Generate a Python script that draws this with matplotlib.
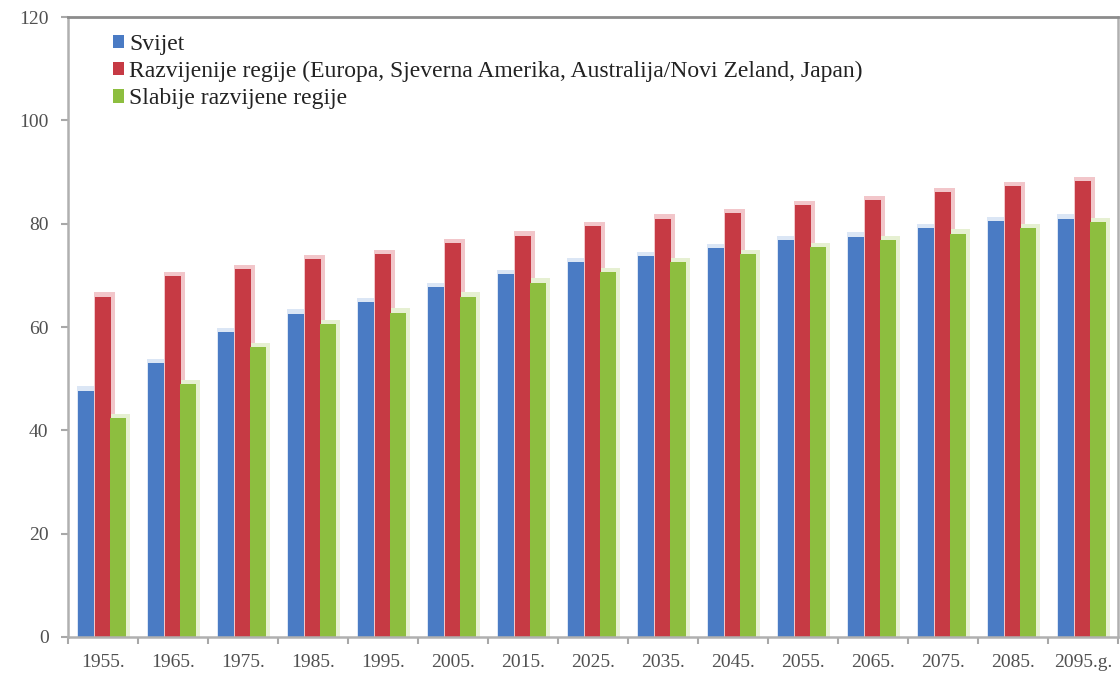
import numpy as np
import matplotlib
matplotlib.use('Agg')
from matplotlib import pyplot as plt

plt.rcParams['font.family'] = ['Liberation Serif', 'DejaVu Serif']

years = ['1955.', '1965.', '1975.', '1985.', '1995.', '2005.', '2015.', '2025.',
         '2035.', '2045.', '2055.', '2065.', '2075.', '2085.', '2095.g.']
svijet = [47.7, 53.1, 59.1, 62.6, 64.8, 67.7, 70.2, 72.5, 73.7, 75.2, 76.8, 77.5, 79.1, 80.5, 81.0]
razvijenije = [65.9, 69.8, 71.2, 73.1, 74.1, 76.2, 77.7, 79.5, 81.0, 82.0, 83.6, 84.5, 86.1, 87.2, 88.2]
slabije = [42.3, 48.9, 56.2, 60.5, 62.8, 65.9, 68.6, 70.6, 72.5, 74.1, 75.4, 76.8, 78.1, 79.1, 80.3]

labels = ['Svijet',
          'Razvijenije regije (Europa, Sjeverna Amerika, Australija/Novi Zeland, Japan)',
          'Slabije razvijene regije']
colors = ['#4a7bc4', '#c63a44', '#8dbe3f']
glow = ['#dbe6f5', '#f2c6ca', '#e6f0d2']

fig = plt.figure(figsize=(11.2, 6.82), dpi=100)
ax = fig.add_axes([0.0607, 0.066, 0.9375, 0.909])

x = np.arange(len(years))
w = 0.235
offsets = [-0.245, 0.0, 0.215]
for vals, off, c, g, lab in zip([svijet, razvijenije, slabije], offsets, colors, glow, labels):
    # soft halo behind each bar, like the excel effect
    ax.bar(x + off + 0.02, np.array(vals) + 0.8, width=w + 0.07, color=g, zorder=1)
    ax.bar(x + off, vals, width=w, color=c, label=lab, zorder=2)

ax.set_xlim(-0.5, len(years) - 0.5)
ax.set_ylim(0, 120)
ax.set_yticks(range(0, 121, 20))
ax.set_xticks(x)
ax.set_xticklabels(years)
ax.set_xticks(np.arange(-0.5, len(years), 1.0), minor=True)
ax.tick_params(axis='x', which='major', length=0, pad=12, labelsize=14, labelcolor='#505050')
ax.tick_params(axis='x', which='minor', length=5, color='#a8a8a8', width=1.5)
ax.tick_params(axis='y', length=5, color='#a8a8a8', width=1.5, pad=9,
               labelsize=14, labelcolor='#505050')

for side in ['left', 'bottom', 'right']:
    ax.spines[side].set_color('#b0b0b0')
    ax.spines[side].set_linewidth(1.8)
ax.spines['top'].set_color('#8c8c8c')
ax.spines['top'].set_linewidth(2.0)

handles, labs = ax.get_legend_handles_labels()
leg = ax.legend(handles, labs, loc='upper left', bbox_to_anchor=(0.029, 0.996),
                frameon=False, fontsize=17, handlelength=0.5, handleheight=0.5,
                handletextpad=0.2, labelspacing=0.26, borderaxespad=0.2,
                labelcolor='#222222')

fig.savefig('out.png', dpi=100)
